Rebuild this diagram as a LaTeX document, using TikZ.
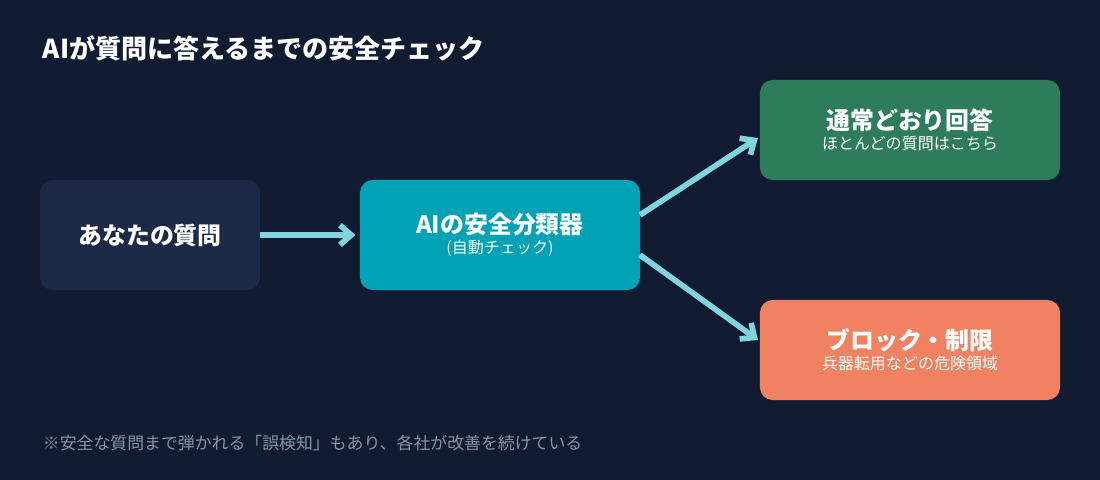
\documentclass[tikz,border=0pt]{standalone}
\usepackage{fontspec}
\setmainfont{Noto Sans CJK JP}
\usepackage{tikz}
\usetikzlibrary{arrows.meta,positioning}
\definecolor{Bg}{HTML}{111C33}
\definecolor{Query}{HTML}{1C2A48}
\definecolor{Filter}{HTML}{00A3B5}
\definecolor{Pass}{HTML}{2E7D5A}
\definecolor{Block}{HTML}{F08262}
\definecolor{Flow}{HTML}{7FD5DD}
\definecolor{Note}{HTML}{8A93A6}
\tikzset{
  box/.style={rounded corners=9pt, draw=none, text=white, align=center, inner sep=0pt},
  flow/.style={Flow, line width=4pt, -{Straight Barb[length=8pt,width=14pt]}},
  head/.style={font=\fontsize{17}{20}\selectfont\bfseries},
  sub/.style={font=\fontsize{11.4}{14}\selectfont}
}
\begin{document}
\begin{tikzpicture}[x=0.025cm,y=-0.025cm]
    %% Background
    \fill[Bg] (0,0) rectangle (1100,480);

    %% Title
    \node[anchor=west, text=white, font=\fontsize{18.5}{22}\selectfont\bfseries] (title) at (38,48) {AIが質問に答えるまでの安全チェック};

    %% Boxes
    \node[box, fill=Query, minimum width=5.5cm, minimum height=2.75cm] (query) at (150,235)
      {\fontsize{17}{20}\selectfont\bfseries あなたの質問};
    \node[box, fill=Filter, minimum width=7cm, minimum height=2.75cm] (filter) at (500,235)
      {{\fontsize{17}{20}\selectfont\bfseries AIの安全分類器}\\[2pt]{\fontsize{11.4}{14}\selectfont (自動チェック)}};
    \node[box, fill=Pass, minimum width=7.5cm, minimum height=2.5cm] (pass) at (910,130)
      {{\fontsize{17}{20}\selectfont\bfseries 通常どおり回答}\\[2pt]{\fontsize{11.4}{14}\selectfont ほとんどの質問はこちら}};
    \node[box, fill=Block, minimum width=7.5cm, minimum height=2.5cm] (block) at (910,350)
      {{\fontsize{17}{20}\selectfont\bfseries ブロック・制限}\\[2pt]{\fontsize{11.4}{14}\selectfont 兵器転用などの危険領域}};

    %% Connectors
    \coordinate (topout) at (640,215);
    \coordinate (botout) at (640,255);
    \coordinate (topin) at (758,138);
    \coordinate (botin) at (758,340);
    \draw[flow] (query.east) -- ([xshift=-3pt]filter.west);
    \draw[flow] (topout) -- (topin);
    \draw[flow] (botout) -- (botin);

    %% Note
    \node[anchor=west, text=Note, font=\fontsize{12}{14}\selectfont] (note) at (38,443)
      {※安全な質問まで弾かれる「誤検知」もあり、各社が改善を続けている};
\end{tikzpicture}
\end{document}
